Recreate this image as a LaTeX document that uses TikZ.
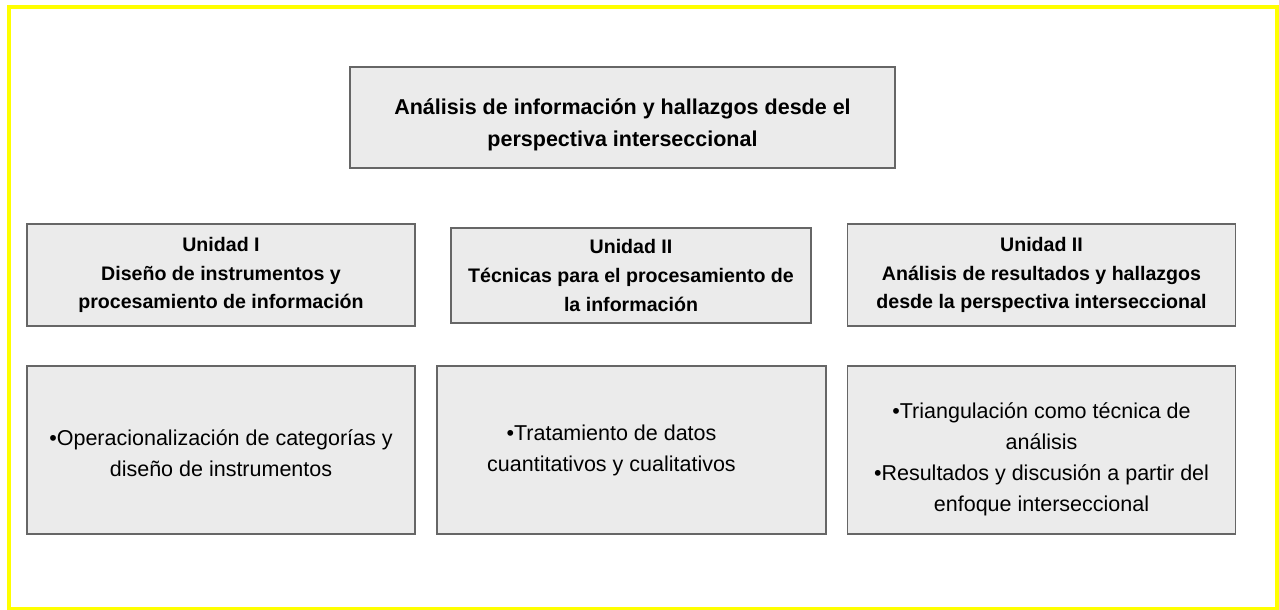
\documentclass[tikz,border=0pt]{standalone}
\usepackage{fontspec}
\setmainfont{Liberation Sans}
\definecolor{boxfill}{HTML}{EBEBEB}
\definecolor{boxline}{HTML}{666666}
\definecolor{frameyellow}{HTML}{FFFF00}
\begin{document}
\begin{tikzpicture}[x=1pt,y=-1pt]
        \tikzstyle{box} = [rectangle, draw=boxline, fill=boxfill, line width=1.3pt, inner sep=0pt]
        \tikzstyle{unit} = [box, minimum width=388pt, minimum height=102pt]
        \tikzstyle{body} = [box, minimum width=388pt, minimum height=168pt]
        \tikzstyle{titletext} = [align=center, inner sep=0pt, font=\bfseries\fontsize{21.5}{32}\selectfont]
        \tikzstyle{unittext} = [align=center, inner sep=0pt, font=\bfseries\fontsize{19.6}{28.8}\selectfont]
        \tikzstyle{bodytext} = [align=center, inner sep=0pt, font=\fontsize{21.5}{31}\selectfont]

                \useasboundingbox (0,0) rectangle (1279,610);
                \draw[frameyellow, line width=4pt] (9,7) rectangle (1277,608.5);

                % title box
                \node (title) [box, minimum width=545pt, minimum height=101pt] at (622.5,117.5) {};
                \node (titlelbl) [titletext] at ([yshift=-7.5pt]title.center) {Análisis de información y hallazgos desde el\\perspectiva interseccional};

                % units
                \node (unit1) [unit] at (221,275) {};
                \node (unit2) [unit, minimum width=360pt, minimum height=95pt] at (631,275.5) {};
                \node (unit3) [unit] at (1041.5,275) {};
                \node (unit1lbl) [unittext] at (unit1.center) {Unidad I\\Diseño de instrumentos y\\procesamiento de información};
                \node (unit2lbl) [unittext] at (unit2.center) {Unidad II\\Técnicas para el procesamiento de\\la información};
                \node (unit3lbl) [unittext] at (unit3.center) {Unidad II\\Análisis de resultados y hallazgos\\desde la perspectiva interseccional};

                % contents
                \node (body1) [body] at (221,450) {};
                \node (body2) [body, minimum width=389pt] at (631.5,450) {};
                \node (body3) [body] at (1041.5,450) {};
                \node (body1lbl) [bodytext] at ([yshift=-3.5pt]body1.center) {•Operacionalización de categorías y\\diseño de instrumentos};
                \node (body2lbl) [bodytext] at ([xshift=-20pt]body2.center) {•Tratamiento de datos\\cuantitativos y cualitativos};
                \node (body3lbl) [bodytext] at ([yshift=-9pt]body3.center) {•Triangulación como técnica de\\análisis\\•Resultados y discusión a partir del\\enfoque interseccional};
\end{tikzpicture}
\end{document}
